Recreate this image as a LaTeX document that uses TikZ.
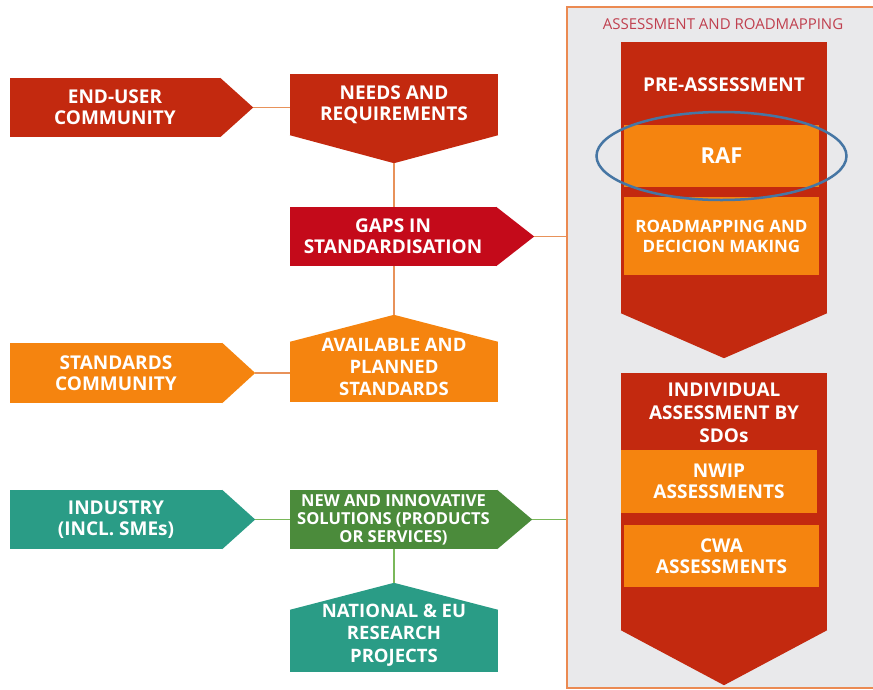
\documentclass[tikz,border=0pt]{standalone}
\usepackage{fontspec}
\setmainfont{Open Sans}
\definecolor{cRed}{HTML}{C3290F}
\definecolor{cCrimson}{HTML}{C40A1A}
\definecolor{cOrange}{HTML}{F5840F}
\definecolor{cTeal}{HTML}{2A9C86}
\definecolor{cGreen}{HTML}{4B8B3B}
\definecolor{cLink}{HTML}{E8925A}
\definecolor{cLinkG}{HTML}{7AB85A}
\definecolor{cGrey}{HTML}{E9E9EB}
\definecolor{cFrame}{HTML}{EB8A52}
\definecolor{cTitle}{HTML}{C0404F}
\definecolor{cRing}{HTML}{4676A4}
\begin{document}
\begin{tikzpicture}[x=1pt,y=-1pt,
    blk/.style={inner sep=0pt, text=white, align=center, font=\bfseries\fontsize{19}{21}\selectfont},
    sidebox/.style={blk, minimum width=212pt, minimum height=60pt},
    midbox/.style={blk, minimum width=208pt, minimum height=60pt},
    inbox/.style={blk, fill=cOrange, minimum width=195pt},
    link/.style={cLink, line width=1.8pt},
    linkg/.style={cLinkG, line width=1.8pt}]
    \useasboundingbox (0,0) rectangle (873,689);

    % assessment frame
    \node[draw=cFrame, fill=cGrey, line width=2pt, minimum width=313pt, minimum height=681pt, inner sep=0pt] (assess) at (723.5,347.5) {};
    \node[text=cTitle, font=\fontsize{15}{17}\selectfont] (asstitle) at (723,24) {ASSESSMENT AND ROADMAPPING};

    % left column
    \node[sidebox, fill=cRed, minimum width=210pt, minimum height=59pt] (enduser) at (115,107.5) {END-USER\\COMMUNITY};
    \fill[cRed] (enduser.north east) -- ([xshift=33pt]enduser.east) -- (enduser.south east) -- cycle;
    \node[sidebox, fill=cOrange] (stdcomm) at (116,373) {STANDARDS\\COMMUNITY};
    \fill[cOrange] (stdcomm.north east) -- ([xshift=33pt]stdcomm.east) -- (stdcomm.south east) -- cycle;
    \node[sidebox, fill=cTeal, minimum height=59pt] (industry) at (116,519.5) {INDUSTRY\\(INCL. SMEs)};
    \fill[cTeal] (industry.north east) -- ([xshift=33pt]industry.east) -- (industry.south east) -- cycle;

    % middle column
    \node[midbox, fill=cRed, minimum height=61pt] (needs) at (394,104.5) {NEEDS AND\\REQUIREMENTS};
    \fill[cRed] (needs.south west) -- ([yshift=-28pt]needs.south) -- (needs.south east) -- cycle;
    \node[midbox, fill=cCrimson, minimum width=206pt, minimum height=59pt] (gaps) at (393,236.5) {GAPS IN\\STANDARDISATION};
    \fill[cCrimson] (gaps.north east) -- ([xshift=38pt]gaps.east) -- (gaps.south east) -- cycle;
    \node[midbox, fill=cOrange] (avail) at (394,372) {};
    \fill[cOrange] (avail.north west) -- ([yshift=27pt]avail.north) -- (avail.north east) -- cycle;
    \node[blk, font=\bfseries\fontsize{18.5}{22}\selectfont] (availtxt) at (394,367) {AVAILABLE AND\\PLANNED\\STANDARDS};
    \node[midbox, fill=cGreen, minimum width=207pt, minimum height=59pt, font=\bfseries\fontsize{16.5}{18}\selectfont] (newsol) at (393.5,519.5) {NEW AND INNOVATIVE\\SOLUTIONS (PRODUCTS\\OR SERVICES)};
    \fill[cGreen] (newsol.north east) -- ([xshift=35pt]newsol.east) -- (newsol.south east) -- cycle;
    \node[midbox, fill=cTeal, minimum height=62pt] (natl) at (394,641) {};
    \fill[cTeal] (natl.north west) -- ([yshift=27pt]natl.north) -- (natl.north east) -- cycle;
    \node[blk, font=\bfseries\fontsize{18.5}{22.5}\selectfont] (natltxt) at (394,635) {NATIONAL \& EU\\RESEARCH\\PROJECTS};

    % assessment chevrons
    \node[fill=cRed, minimum width=206pt, minimum height=271pt, inner sep=0pt] (pre) at (724,177.5) {};
    \fill[cRed] (pre.south west) -- ([yshift=-45pt]pre.south) -- (pre.south east) -- cycle;
    \node[blk] (pretitle) at (724,85) {PRE-ASSESSMENT};
    \node[inbox, minimum height=62pt, font=\bfseries\fontsize{22}{24}\selectfont] (raf) at (721.5,156) {RAF};
    \node[inbox, minimum height=78pt, font=\bfseries\fontsize{17}{20}\selectfont] (roadmap) at (721.5,236) {ROADMAPPING AND\\DECICION MAKING};
    \draw[cRing, line width=2.5pt] (raf.center) ellipse [x radius=125pt, y radius=44pt];

    \node[fill=cRed, minimum width=206pt, minimum height=257pt, inner sep=0pt] (indiv) at (724,501.5) {};
    \fill[cRed] (indiv.south west) -- ([yshift=-55pt]indiv.south) -- (indiv.south east) -- cycle;
    \node[blk, font=\bfseries\fontsize{19}{23}\selectfont] (indivtxt) at (724,413) {INDIVIDUAL\\ASSESSMENT BY\\SDOs};
    \node[inbox, minimum width=196pt, minimum height=63pt] (nwip) at (719,481.5) {NWIP\\ASSESSMENTS};
    \node[inbox, minimum height=62pt] (cwa) at (721.5,556) {CWA\\ASSESSMENTS};

    % connectors
    \draw[link] ([xshift=33pt]enduser.east) -- (needs.west |- enduser.east);
    \draw[link] ([yshift=-28pt]needs.south) -- (gaps.north -| needs.south);
    \draw[link] ([xshift=38pt]gaps.east) -- (assess.west |- gaps.east);
    \draw[link] (gaps.south -| needs.south) -- ([yshift=27pt]avail.north);
    \draw[link] ([xshift=33pt]stdcomm.east) -- (avail.west |- stdcomm.east);
    \draw[linkg] ([xshift=33pt]industry.east) -- (newsol.west |- industry.east);
    \draw[linkg] ([xshift=35pt]newsol.east) -- (assess.west |- newsol.east);
    \draw[linkg] (newsol.south -| natl.north) -- ([yshift=27pt]natl.north);
\end{tikzpicture}
\end{document}
